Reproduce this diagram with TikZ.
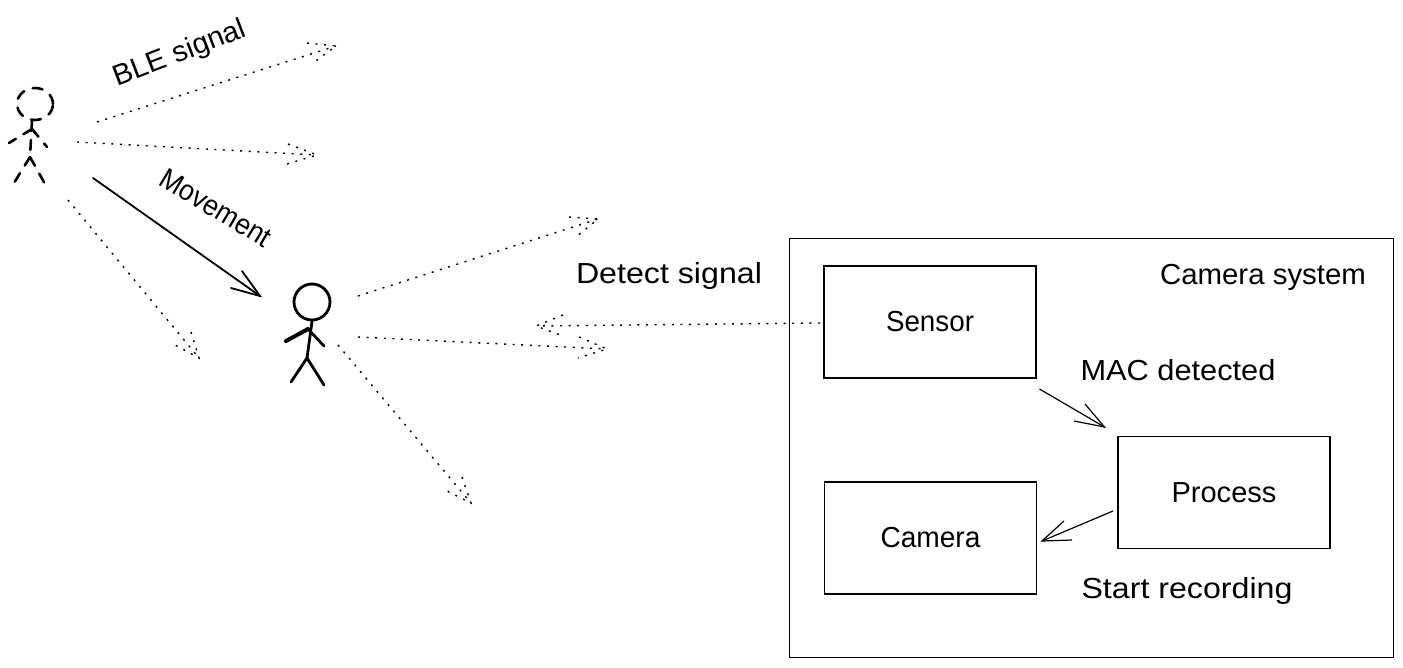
\documentclass[tikz,border=0pt]{standalone}
\usepackage{fontspec}
\usepackage{graphicx}
\setmainfont{Liberation Sans}
\usetikzlibrary{arrows.meta,shapes.geometric}
\newcommand{\fitw}[2]{\resizebox{#1pt}{\height}{#2}}
\tikzset{
  box/.style={draw=black,line width=1.6pt,minimum width=212pt,minimum height=112pt,inner sep=0pt,font=\fontsize{29}{32}\selectfont},
  frame/.style={draw=black,line width=1pt,inner sep=0pt},
  lbl/.style={inner sep=0pt,font=\fontsize{29}{32}\selectfont},
  sig/.style={line width=1.4pt,dash pattern=on 2pt off 6.6pt,black},
  flow/.style={line width=1.2pt,black},
  heavyflow/.style={line width=1.8pt,black},
  stick/.style={line width=2.8pt,black,line cap=round},
  ghost/.style={line width=2.6pt,black,line cap=round,dash pattern=on 10pt off 9pt},
}
\begin{document}
\begin{tikzpicture}[x=1pt,y=-1pt]
\useasboundingbox (0,0) rectangle (1403,667);
% frame and boxes
\node[frame,minimum width=604pt,minimum height=419pt] (system) at (1091,447.5) {};
\node[box] (sensor) at (930,322) {\fitw{88}{Sensor}};
\node[box] (process) at (1224,492.5) {\fitw{105}{Process}};
\node[box] (camera) at (930.5,538) {\fitw{100}{Camera}};
% labels
\node[lbl] (lsys) at (1263,277) {\fitw{206}{Camera system}};
\node[lbl] (lmac) at (1178,370) {\fitw{195}{MAC detected}};
\node[lbl] (lrec) at (1187,591) {\fitw{211}{Start recording}};
\node[lbl] (ldet) at (669,276) {\fitw{186}{Detect signal}};
\node[lbl,rotate=21] (lble) at (180,54) {\fitw{140}{BLE signal}};
\node[lbl,rotate=-31] (lmov) at (216,208) {\fitw{124}{Movement}};
% ghost figure
\node[ellipse,draw=black,ghost,minimum width=36pt,minimum height=32pt,inner sep=0pt] (ghosthead) at (35,104) {};
\coordinate (gneck) at (32,121);
\coordinate (ghip) at (30,157);
\coordinate (gsh) at (32,129);
\coordinate (glh) at (9,143);
\coordinate (grh) at (47,147);
\coordinate (gll) at (14,183);
\coordinate (grl) at (45,184);
\draw[ghost] (gneck) -- (ghip);
\draw[ghost] (gsh) -- (glh);
\draw[ghost] (gsh) -- (grh);
\draw[ghost] (ghip) -- (gll);
\draw[ghost] (ghip) -- (grl);
% solid figure
\node[circle,draw=black,line width=2.8pt,minimum size=36pt,inner sep=0pt] (head) at (312,302) {};
\coordinate (hip) at (307,358);
\coordinate (sh) at (308,329);
\coordinate (lh) at (286,341);
\coordinate (rh) at (324,346);
\coordinate (ll) at (291,382);
\coordinate (rl) at (324,385);
\draw[stick] (head.south) -- (hip);
\draw[stick,line width=4pt] (sh) -- (lh);
\draw[stick] (sh) -- (rh);
\draw[stick] (hip) -- (ll);
\draw[stick] (hip) -- (rl);
% signal arrows from the ghost figure
\coordinate (a1s) at (97,122); \coordinate (a1t) at (336,46); \coordinate (a1l) at (307,43); \coordinate (a1r) at (313,63);
\draw[sig] (a1s) -- (a1t); \draw[sig] (a1l) -- (a1t) -- (a1r);
\coordinate (a2s) at (77,142); \coordinate (a2t) at (317,155); \coordinate (a2l) at (288,144); \coordinate (a2r) at (287,164);
\draw[sig] (a2s) -- (a2t); \draw[sig] (a2l) -- (a2t) -- (a2r);
\coordinate (a3s) at (68,200); \coordinate (a3t) at (199,358); \coordinate (a3l) at (191,332); \coordinate (a3r) at (175,345);
\draw[sig] (a3s) -- (a3t); \draw[sig] (a3l) -- (a3t) -- (a3r);
% signal arrows from the solid figure
\coordinate (a4s) at (358,296); \coordinate (a4t) at (598,219); \coordinate (a4l) at (569,217); \coordinate (a4r) at (576,237);
\draw[sig] (a4s) -- (a4t); \draw[sig] (a4l) -- (a4t) -- (a4r);
\coordinate (a5s) at (358,337); \coordinate (a5t) at (607,349); \coordinate (a5l) at (579,337); \coordinate (a5r) at (578,358);
\draw[sig] (a5s) -- (a5t); \draw[sig] (a5l) -- (a5t) -- (a5r);
\coordinate (a6s) at (338,345); \coordinate (a6t) at (471,503); \coordinate (a6l) at (462,477); \coordinate (a6r) at (445,490);
\draw[sig] (a6s) -- (a6t); \draw[sig] (a6l) -- (a6t) -- (a6r);
% sensor detect arrow
\coordinate (a7s) at (820,323); \coordinate (a7t) at (536,326); \coordinate (a7l) at (563,315); \coordinate (a7r) at (563,336);
\draw[sig] (a7s) -- (a7t); \draw[sig] (a7l) -- (a7t) -- (a7r);
% movement arrow
\coordinate (ms) at (93,178); \coordinate (mt) at (260,296); \coordinate (ml) at (242,271); \coordinate (mr) at (231,288);
\draw[heavyflow,line cap=round] (ms) -- (mt); \draw[heavyflow,line cap=round] (ml) -- (mt) -- (mr);
% system flows
\coordinate (ps) at (1039.5,389); \coordinate (pt) at (1104.5,427); \coordinate (pl) at (1085,404); \coordinate (pr) at (1074,421);
\draw[flow] (ps) -- (pt); \draw[flow] (pl) -- (pt) -- (pr);
\coordinate (cs) at (1113,511); \coordinate (ct) at (1042,541); \coordinate (cl) at (1064,521); \coordinate (cr) at (1072,540);
\draw[flow] (cs) -- (ct); \draw[flow] (cl) -- (ct) -- (cr);
\end{tikzpicture}
\end{document}
